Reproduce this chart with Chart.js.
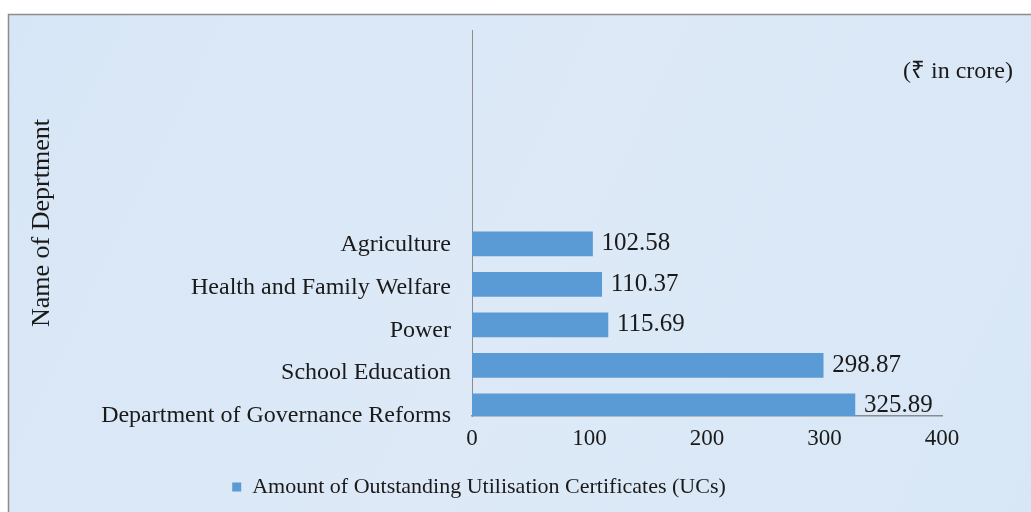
<!DOCTYPE html>
<html>
<head>
<meta charset="utf-8">
<script src="https://cdn.jsdelivr.net/npm/chart.js@4/dist/chart.umd.min.js"></script>
<style>
  html, body { margin: 0; padding: 0; background: #fff; }
  #wrap { width: 1031px; height: 512px; position: relative; }
</style>
</head>
<body>
<div id="wrap"><canvas id="uc-chart" width="1031" height="512"></canvas></div>
<script>
// Outstanding UCs by department (Rs in crore)
var departments = ["", "", "", "", "", "Agriculture", "Health and Family Welfare", "Power", "School Education", "Department of Governance Reforms"];
var amounts = [102.58, 110.37, 115.69, 298.87, 325.89];
var xTicks = [0, 100, 200, 300, 400];
var seriesName = "Amount of Outstanding Utilisation Certificates (UCs)";
var unitNote = "(\u20B9 in crore)";

var serif = "'Liberation Serif', 'Times New Roman', serif";
var barColor = "#5b9bd5";
var axisGrey = "#8c8c8c";

// bars are placed by row index, bottom row = 0
var barRows = amounts.map(function(v, i) {
  return { x: v, y: amounts.length - 1 - i };
});

var panelBg = {
  id: "panelBg",
  beforeDraw: function(chart) {
    var c = chart.ctx;
    c.save();
    c.fillStyle = "#ffffff";
    c.fillRect(0, 0, chart.width, chart.height);
    var g = c.createLinearGradient(0, 14, chart.width, chart.height);
    g.addColorStop(0, "#d7e6f6");
    g.addColorStop(0.5, "#dde9f7");
    g.addColorStop(1, "#d8e7f6");
    c.fillStyle = g;
    c.fillRect(8, 14, chart.width - 8, chart.height - 14);
    c.strokeStyle = axisGrey;
    c.lineWidth = 1.5;
    c.beginPath();
    c.moveTo(8.5, chart.height);
    c.lineTo(8.5, 14.5);
    c.lineTo(chart.width, 14.5);
    c.stroke();
    c.restore();
  }
};

var valueLabels = {
  id: "valueLabels",
  afterDatasetsDraw: function(chart) {
    var c = chart.ctx;
    var meta = chart.getDatasetMeta(0);
    c.save();
    c.font = "25px " + serif;
    c.fillStyle = "#1a1a1a";
    c.textAlign = "left";
    c.textBaseline = "middle";
    meta.data.forEach(function(bar, i) {
      c.fillText(amounts[i].toFixed(2), bar.x + 9, bar.y);
    });
    // unit note in the upper right
    c.font = "24px " + serif;
    c.textAlign = "right";
    c.fillText(unitNote, 1013, 72);
    c.restore();
  }
};

var ctx = document.getElementById("uc-chart").getContext("2d");
var chart = new Chart(ctx, {
  type: "bar",
  data: {
    datasets: [{
      label: seriesName,
      data: barRows,
      backgroundColor: barColor,
      borderWidth: 0,
      barThickness: 24,
      yAxisID: "y"
    }]
  },
  options: {
    indexAxis: "y",
    responsive: false,
    animation: false,
    layout: { padding: { left: 16, right: 89, top: 30, bottom: 4 } },
    scales: {
      x: {
        type: "linear",
        min: xTicks[0],
        max: xTicks[xTicks.length - 1],
        afterBuildTicks: function(scale) {
          scale.ticks = xTicks.map(function(v) { return { value: v }; });
        },
        afterFit: function(scale) { scale.height = 50; },
        grid: { display: false, drawTicks: false },
        border: { display: true, color: axisGrey, width: 1.5 },
        ticks: { color: "#1a1a1a", padding: 9, font: { family: serif, size: 23 } }
      },
      y: {
        type: "linear",
        display: false,
        offset: false,
        min: -0.25,
        max: 9.28
      },
      y2: {
        type: "category",
        position: "left",
        labels: departments,
        offset: false,
        afterFit: function(scale) {
          scale.width = 456;
          scale.paddingTop = 0;
          scale.paddingBottom = 0;
        },
        grid: { display: false, drawTicks: false },
        border: { display: true, color: axisGrey, width: 1 },
        ticks: { color: "#1a1a1a", padding: 21, autoSkip: false, font: { family: serif, size: 24 } },
        title: {
          display: true,
          text: "Name of Deprtment",
          color: "#1a1a1a",
          padding: { top: 11, bottom: 0 },
          font: { family: serif, size: 26 }
        }
      }
    },
    plugins: {
      tooltip: { enabled: false },
      legend: {
        position: "bottom",
        labels: {
          boxWidth: 9,
          boxHeight: 9,
          padding: 10,
          color: "#1a1a1a",
          font: { family: serif, size: 22 }
        }
      }
    }
  },
  plugins: [panelBg, valueLabels]
});
</script>
</body>
</html>
